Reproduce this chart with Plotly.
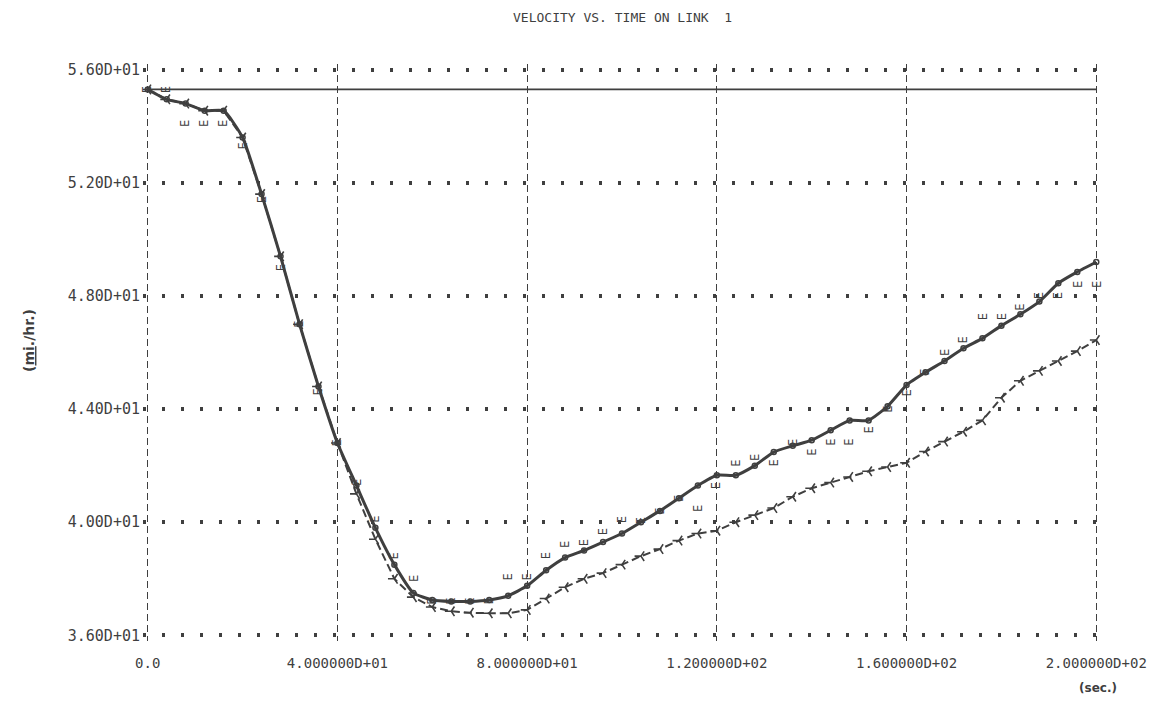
import plotly.graph_objects as go

# ---- data ----
t = [0, 4, 8, 12, 16, 20, 24, 28, 32, 36, 40, 44, 48, 52, 56, 60, 64, 68, 72, 76,
     80, 84, 88, 92, 96, 100, 104, 108, 112, 116, 120, 124, 128, 132, 136, 140,
     144, 148, 152, 156, 160, 164, 168, 172, 176, 180, 184, 188, 192, 196, 200]

v_obs = [55.3, 54.95, 54.8, 54.55, 54.55, 53.6, 51.6, 49.4, 47.0, 44.8, 42.8, 41.3,
         39.8, 38.5, 37.5, 37.25, 37.2, 37.2, 37.25, 37.4, 37.75, 38.3, 38.75, 39.0,
         39.3, 39.6, 40.0, 40.4, 40.85, 41.3, 41.66, 41.66, 42.0, 42.48, 42.7, 42.9,
         43.25, 43.6, 43.6, 44.1, 44.85, 45.3, 45.7, 46.15, 46.5, 46.95, 47.35, 47.8,
         48.45, 48.85, 49.2]

v_model = [55.3, 54.95, 54.8, 54.55, 54.55, 53.6, 51.6, 49.4, 47.0, 44.8, 42.8, 41.0,
           39.4, 38.0, 37.35, 37.0, 36.85, 36.8, 36.78, 36.78, 36.9, 37.3, 37.7, 38.0,
           38.2, 38.5, 38.8, 39.05, 39.35, 39.6, 39.7, 40.0, 40.25, 40.5, 40.9, 41.2,
           41.4, 41.6, 41.8, 41.95, 42.1, 42.5, 42.85, 43.2, 43.6, 44.4, 45.0, 45.35,
           45.7, 46.05, 46.44]

v_est = [55.3, 55.3, 54.1, 54.1, 54.1, 53.3, 51.4, 49.0, 47.0, 44.6, 42.8, 41.4,
         40.1, 38.8, 38.0, 37.2, 37.2, 37.2, 37.2, 38.05, 38.05, 38.8, 39.2, 39.26,
         39.65, 40.07, 40.07, 40.4, 40.85, 40.5, 41.3, 42.1, 42.3, 42.1, 42.83, 42.48,
         42.83, 42.83, 43.26, 44.0, 44.57, 45.3, 46.0, 46.44, 47.26, 47.26, 47.6, 48.0,
         48.0, 48.4, 48.4]

free_t = [0, 200]
free_v = [55.3, 55.3]

x_ticks = [0, 40, 80, 120, 160, 200]
x_labels = ["0.0", "4.000000D+01", "8.000000D+01", "1.200000D+02", "1.600000D+02", "2.000000D+02"]
y_ticks = [36, 40, 44, 48, 52, 56]
y_labels = ["3.60D+01", "4.00D+01", "4.40D+01", "4.80D+01", "5.20D+01", "5.60D+01"]

INK = "#3f3f3f"
FONT = "DejaVu Sans Mono"

fig = go.Figure()

fig.add_trace(go.Scatter(x=free_t, y=free_v, mode="lines",
                         line=dict(color=INK, width=1.8), showlegend=False))

fig.add_trace(go.Scatter(x=t, y=v_model, mode="lines+markers",
                         line=dict(color=INK, width=2, dash="8px,4px"),
                         marker=dict(symbol="y-left", size=8,
                                     line=dict(color=INK, width=1.6)),
                         showlegend=False))

fig.add_trace(go.Scatter(x=t, y=v_obs, mode="lines+markers",
                         line=dict(color=INK, width=3, shape="spline", smoothing=0.5),
                         marker=dict(symbol="circle-open", size=5,
                                     line=dict(color=INK, width=1.5)),
                         showlegend=False))

for xi, yi in zip(t, v_est):
    fig.add_annotation(x=xi, y=yi, xref="x", yref="y", text="E", showarrow=False,
                       textangle=-90, font=dict(family=FONT, size=12, color=INK))

# title and axis units
fig.add_annotation(text="VELOCITY VS. TIME ON LINK  1", xref="paper", yref="paper",
                   x=0.5, y=1, yshift=56, showarrow=False,
                   font=dict(family=FONT, size=13, color=INK))
fig.add_annotation(text="<b>(sec.)</b>", xref="paper", yref="paper", x=1, y=0,
                   xshift=18, yshift=-56, showarrow=False,
                   font=dict(family="DejaVu Sans", size=12, color=INK))
fig.add_annotation(text="<b>(<u>mi</u>./hr.)</b>", xref="paper", yref="paper",
                   x=0, y=0.52, xshift=-124, showarrow=False, textangle=-90,
                   font=dict(family="DejaVu Sans", size=14, color=INK))

fig.update_xaxes(range=[-1, 201], tickvals=x_ticks, ticktext=x_labels,
                 showgrid=True, gridcolor=INK, gridwidth=1.4, griddash="7px,4px",
                 zeroline=False, showline=False, ticks="",
                 ticklabelstandoff=12,
                 tickfont=dict(family=FONT, size=14, color=INK))
fig.update_yaxes(range=[35.8, 56.2], tickvals=y_ticks, ticktext=y_labels,
                 showgrid=True, gridcolor=INK, gridwidth=3.5, griddash="3px,16px",
                 zeroline=False, showline=False, ticks="",
                 ticklabelstandoff=2,
                 tickfont=dict(family=FONT, size=15, color=INK))

fig.update_layout(width=1168, height=711, paper_bgcolor="white", plot_bgcolor="white",
                  margin=dict(l=143.3, r=67.3, t=64.35, b=70.35),
                  showlegend=False)

fig.write_html("out.html")
